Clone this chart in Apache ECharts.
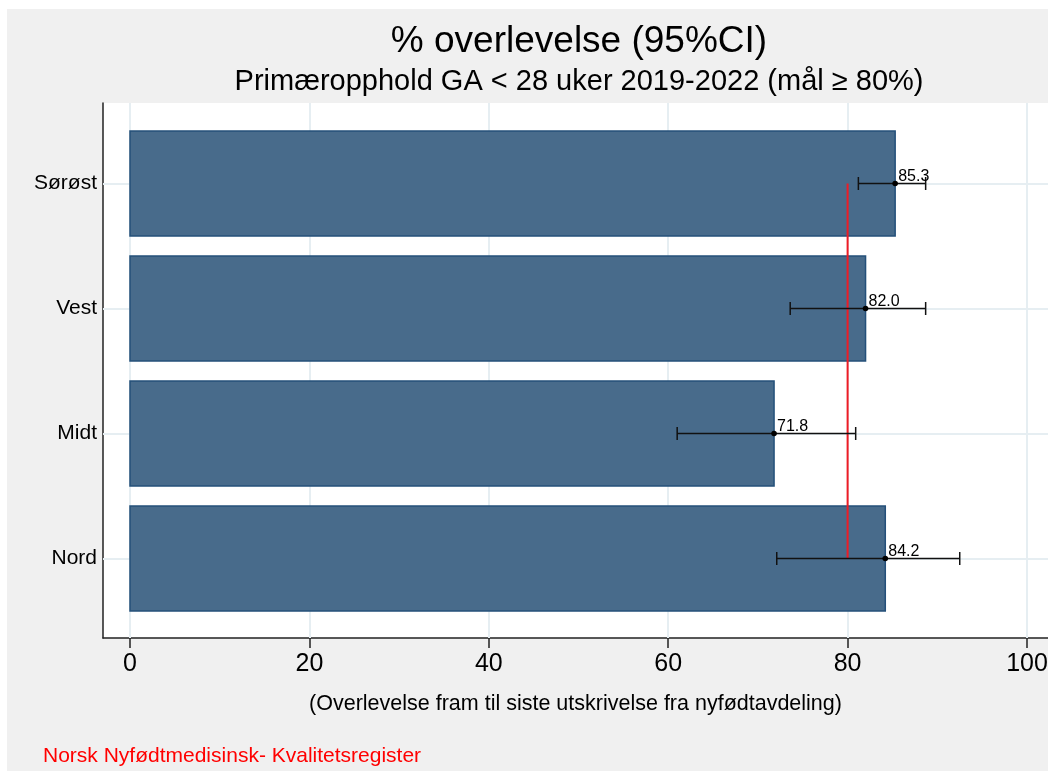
<!DOCTYPE html>
<html><head><meta charset="utf-8">
<script src="https://cdn.jsdelivr.net/npm/echarts@6/dist/echarts.min.js"></script>
<style>html,body{margin:0;padding:0;background:#fff}#c{width:1048px;height:771px}</style>
</head><body><div id="c"></div>
<script>
const categories = ['Sørøst', 'Vest', 'Midt', 'Nord'];
const values = [85.3, 82.0, 71.8, 84.2];
const ciLow = [81.2, 73.6, 61.0, 72.1];
const ciHigh = [88.7, 88.7, 80.9, 92.5];
const target = 80;
const xTicks = [0, 20, 40, 60, 80, 100];
const catIdx = [0, 1, 2, 3];

const FONT = '"Liberation Sans", Arial, sans-serif';
const chart = echarts.init(document.getElementById('c'), null, {renderer: 'canvas'});

const barData = values.map((v, i) => [v, i]);
const errData = values.map((v, i) => [v, i, ciLow[i], ciHigh[i]]);

chart.setOption({
  backgroundColor: '#ffffff',
  animation: false,
  graphic: [
    {type: 'rect', z: -10, shape: {x: 7, y: 9, width: 1041, height: 762}, style: {fill: '#f0f0f0'}},
    {type: 'text', x: 579, y: 42, z: 5, style: {text: '% overlevelse (95%CI)', font: '37px ' + FONT, fill: '#000', align: 'center', verticalAlign: 'middle'}},
    {type: 'text', x: 579, y: 82, z: 5, style: {text: 'Primæropphold GA < 28 uker 2019-2022 (mål ≥ 80%)', font: '29px ' + FONT, fill: '#000', align: 'center', verticalAlign: 'middle'}},
    {type: 'text', x: 43, y: 756, z: 5, style: {text: 'Norsk Nyfødtmedisinsk- Kvalitetsregister', font: '21px ' + FONT, fill: '#ff0000', align: 'left', verticalAlign: 'middle'}}
  ],
  grid: {left: 103, right: 0, top: 103, bottom: 133, show: true, backgroundColor: '#ffffff', borderWidth: 0, containLabel: false, outerBoundsMode: 'none'},
  xAxis: {
    type: 'value', min: -3.01, max: 102.34,
    axisLine: {show: true, onZero: false, lineStyle: {color: '#222', width: 1.5}},
    axisTick: {show: true, customValues: xTicks, length: 10, lineStyle: {color: '#222', width: 1.5}},
    axisLabel: {show: true, customValues: xTicks, fontSize: 25, fontFamily: FONT, color: '#000', margin: 14, hideOverlap: false},
    splitLine: {show: false},
    name: '(Overlevelse fram til siste utskrivelse fra nyfødtavdeling)',
    nameLocation: 'middle', nameGap: 55,
    nameTextStyle: {fontSize: 21.5, fontFamily: FONT, color: '#000'}
  },
  yAxis: {
    type: 'value', inverse: true, min: -0.644, max: 3.636,
    axisLine: {show: true, onZero: false, lineStyle: {color: '#222', width: 1.5}},
    axisTick: {show: false},
    axisLabel: {show: true, customValues: catIdx, formatter: v => categories[Math.round(v)], fontSize: 21, fontFamily: FONT, color: '#000', margin: 6},
    splitLine: {show: false}
  },
  series: [
    {
      type: 'line', data: [], silent: true, z: 1,
      markLine: {
        silent: true, symbol: 'none', animation: false, z: 1,
        label: {show: false},
        lineStyle: {color: '#e6eef2', width: 2, type: 'solid'},
        data: xTicks.map(v => ({xAxis: v})).concat(catIdx.map(i => ({yAxis: i})))
      }
    },
    {
      type: 'custom', z: 2, data: barData,
      renderItem: (params, api) => {
        const v = api.value(0), i = api.value(1);
        const p0 = api.coord([0, i - 0.42]);
        const p1 = api.coord([v, i + 0.42]);
        return {type: 'rect', shape: {x: p0[0], y: p0[1], width: p1[0] - p0[0], height: p1[1] - p0[1]},
          style: {fill: '#486b8b', stroke: '#24507a', lineWidth: 1.5}};
      }
    },
    {
      type: 'line', z: 3, data: [[target, 0], [target, 3]], symbol: 'none',
      lineStyle: {color: '#ee1c25', width: 2}
    },
    {
      type: 'custom', z: 4, data: errData,
      renderItem: (params, api) => {
        const v = api.value(0), i = api.value(1), lo = api.value(2), hi = api.value(3);
        const pl = api.coord([lo, i]), ph = api.coord([hi, i]), pv = api.coord([v, i]);
        const cap = 6.5;
        const st = {stroke: '#111', lineWidth: 1.5};
        return {type: 'group', children: [
          {type: 'line', shape: {x1: pl[0], y1: pl[1], x2: ph[0], y2: ph[1]}, style: st},
          {type: 'line', shape: {x1: pl[0], y1: pl[1] - cap, x2: pl[0], y2: pl[1] + cap}, style: st},
          {type: 'line', shape: {x1: ph[0], y1: ph[1] - cap, x2: ph[0], y2: ph[1] + cap}, style: st},
          {type: 'circle', shape: {cx: pv[0], cy: pv[1], r: 2.8}, style: {fill: '#000'}},
          {type: 'text', x: pv[0] + 3, y: pv[1] + 1, style: {text: v.toFixed(1), font: '16px ' + FONT, fill: '#000', align: 'left', verticalAlign: 'bottom'}}
        ]};
      }
    }
  ]
});
</script></body></html>
